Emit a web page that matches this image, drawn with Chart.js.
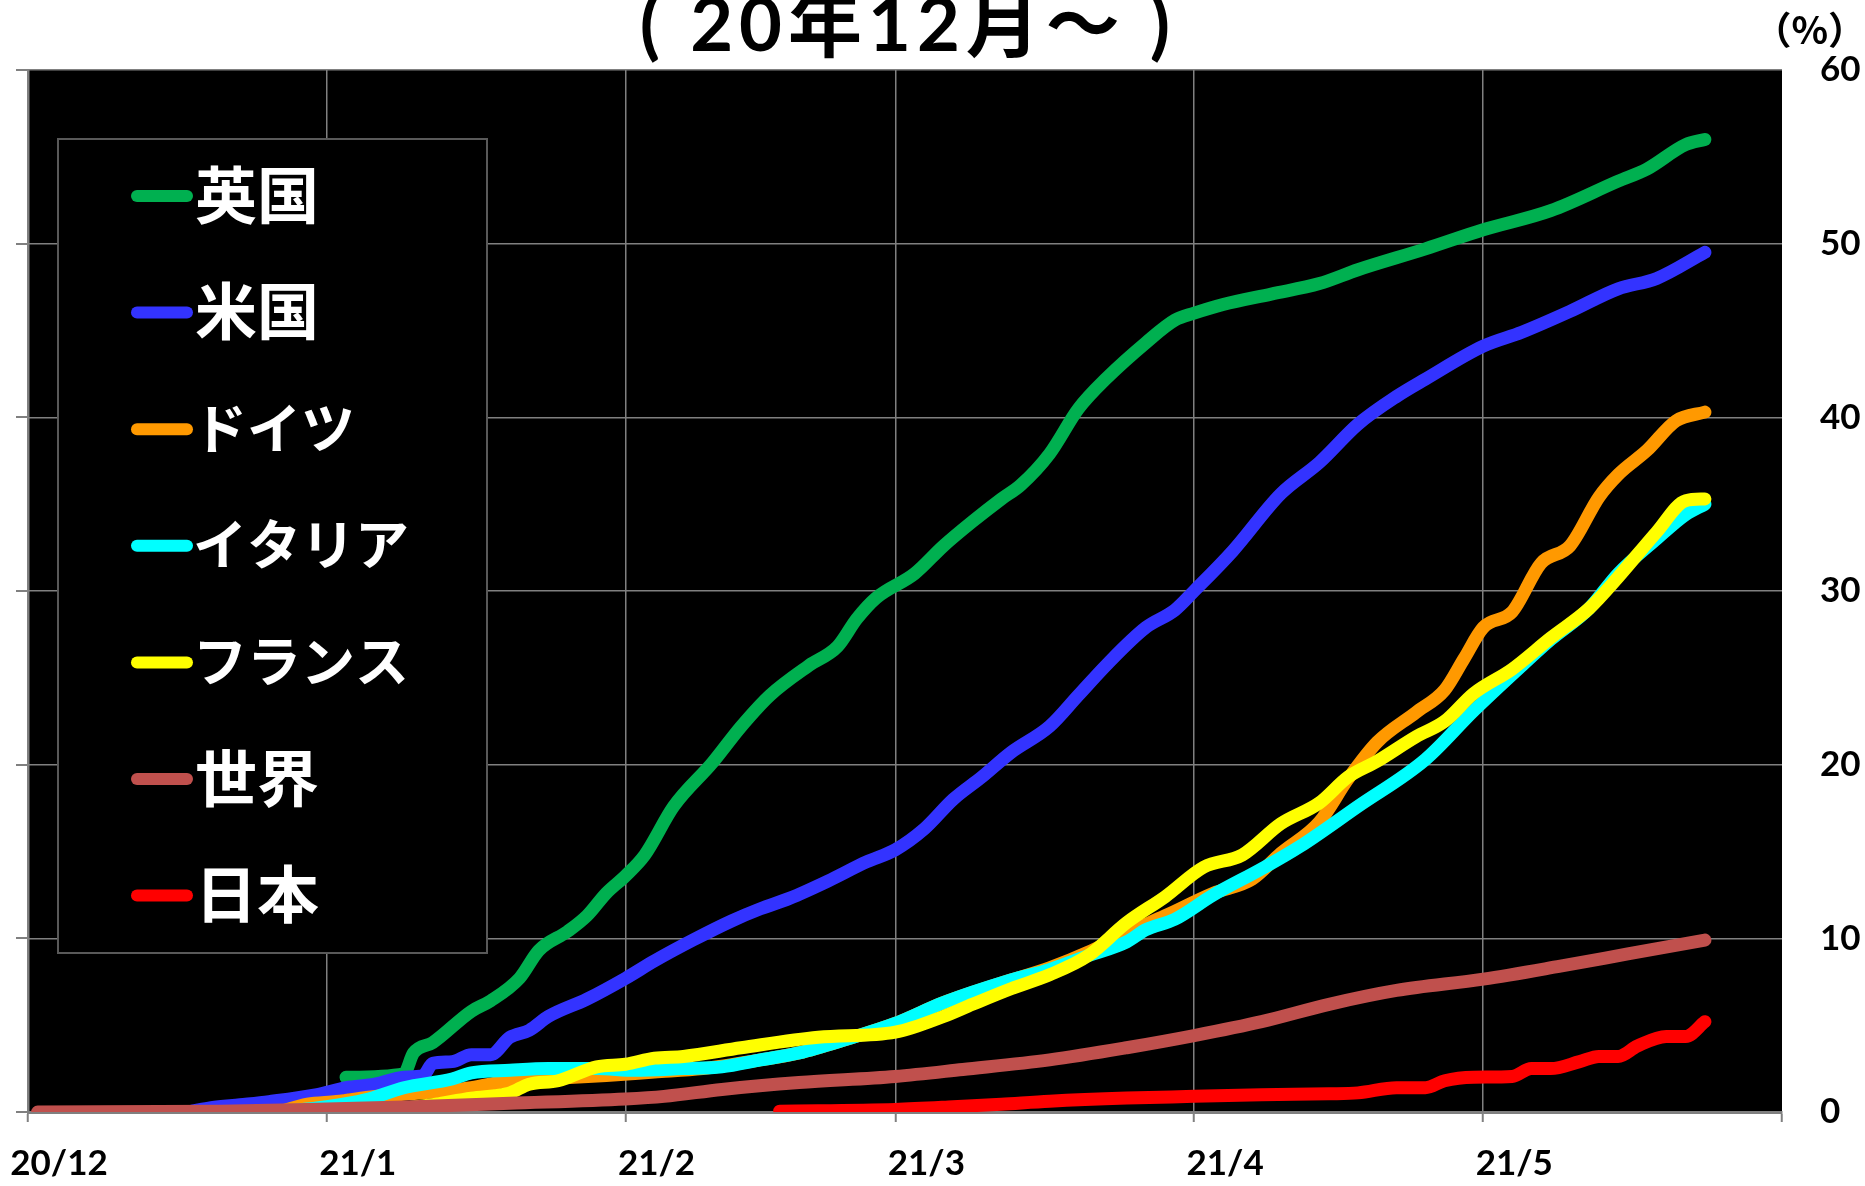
<!DOCTYPE html>
<html><head><meta charset="utf-8">
<script src="https://cdn.jsdelivr.net/npm/chart.js@4.4.1/dist/chart.umd.min.js"></script>
<style>html,body{margin:0;padding:0;background:#fff;overflow:hidden}</style>
</head><body>
<canvas id="c" width="1865" height="1186" style="display:block;width:1865px;height:1186px"></canvas>
<script>
// Day offsets are counted from 2020-12-01
const tickDays   = [0, 31, 62, 90, 121, 151, 182];
const tickLabels = ['20/12', '21/1', '21/2', '21/3', '21/4', '21/5', ''];
const yTicks = [0, 10, 20, 30, 40, 50, 60];

const seriesNames  = ['英国', '米国', 'ドイツ', 'イタリア', 'フランス', '世界', '日本'];
const seriesColors = ['#00B050', '#3333FF', '#FF9900', '#00FFFF', '#FFFF00', '#C0504D', '#FF0000'];

const ukDays = [33,39,40,42,46,48,51,53,56,58,60,62,64,67,71,74,77,81,84,86,88,92,95,98,101,103,106,109,112,116,119,121,124,129,134,138,145,151,158,165,168,172,174];
const ukValues = [2.0,2.2,3.4,4.0,5.8,6.4,7.7,9.3,10.4,11.3,12.6,13.6,14.8,17.6,20.1,22.2,24.0,25.7,26.8,28.4,29.6,31.0,32.6,34.0,35.3,36.1,37.9,40.5,42.3,44.3,45.6,46.0,46.5,47.1,47.7,48.5,49.7,50.8,51.9,53.6,54.3,55.7,56.0];

const usDays = [17,19,22,25,30,33,36,39,41,42,44,46,48,50,52,54,58,62,65,69,73,76,79,83,87,90,93,96,99,102,106,109,112,116,119,121,125,130,134,138,142,145,151,155,160,165,169,174];
const usValues = [0.05,0.25,0.42,0.6,1.0,1.4,1.6,2.0,2.1,2.8,2.9,3.3,3.3,4.3,4.7,5.5,6.5,7.7,8.7,9.9,11.0,11.7,12.3,13.3,14.4,15.1,16.3,18.0,19.3,20.7,22.2,24.0,25.8,27.9,28.9,30.0,32.3,35.6,37.4,39.6,41.2,42.2,44.1,44.9,46.1,47.4,48.0,49.5];

const deDays = [26,29,32,36,41,46,50,55,60,65,70,76,80,85,90,95,102,106,110,114,118,123,127,130,134,137,140,144,147,149,151,154,157,160,163,165,168,171,174];
const deValues = [0.0,0.45,0.6,0.9,1.1,1.4,1.8,1.95,2.1,2.3,2.5,3.0,3.4,4.2,5.1,6.3,7.6,8.3,9.2,10.3,11.3,12.6,13.4,14.9,16.7,19.2,21.3,23.0,24.3,26.1,27.9,28.8,31.6,32.6,35.4,36.7,38.1,39.8,40.3];

const itDays = [26,31,35,39,44,46,50,54,59,63,68,72,76,80,85,90,95,102,106,110,114,116,119,123,128,132,138,145,150,155,158,162,165,169,172,174];
const itValues = [0.0,0.3,0.7,1.4,1.9,2.25,2.4,2.5,2.5,2.4,2.5,2.6,3.0,3.4,4.2,5.1,6.3,7.6,8.2,9.0,9.8,10.5,11.1,12.5,14.0,15.3,17.6,20.3,23.1,25.7,27.2,29.0,31.0,33.0,34.4,35.0];

const frDays = [26,33,37,41,46,50,52,55,59,62,65,68,74,82,90,95,98,102,106,110,114,118,122,126,130,134,137,140,144,147,150,154,158,162,165,169,172,174];
const frValues = [0.0,0.05,0.13,0.35,0.8,1.1,1.6,1.8,2.6,2.75,3.1,3.2,3.7,4.3,4.6,5.5,6.2,7.1,7.9,9.0,10.9,12.4,14.1,14.8,16.6,17.8,19.3,20.2,21.6,22.5,24.1,25.5,27.3,29.0,30.8,33.4,35.2,35.3];

const worldDays = [1,20,31,40,50,62,66,72,80,90,97,106,114,121,128,135,142,151,159,166,174];
const worldValues = [0.0,0.05,0.17,0.3,0.5,0.75,0.9,1.3,1.7,2.05,2.45,3.0,3.7,4.4,5.2,6.2,7.0,7.65,8.4,9.1,9.9];

const jpDays = [78,90,96,101,106,114,121,128,135,138,142,145,147,150,154,156,158,161,163,165,167,170,172,174];
const jpValues = [0.05,0.15,0.3,0.45,0.62,0.8,0.9,1.0,1.05,1.1,1.4,1.4,1.8,2.0,2.05,2.5,2.5,2.9,3.2,3.2,3.8,4.35,4.35,5.2];

const seriesDays   = [ukDays, usDays, deDays, itDays, frDays, worldDays, jpDays];
const seriesValues = [ukValues, usValues, deValues, itValues, frValues, worldValues, jpValues];

const titleText = '( 20年12月～ )';
const unitText = '（%）';

const GRID = '#808080';

const datasets = seriesNames.map((name, i) => ({
  label: name,
  data: seriesDays[i].map((d, j) => ({ x: d, y: seriesValues[i][j] })),
  borderColor: seriesColors[i],
  backgroundColor: seriesColors[i],
  borderWidth: 13,
  pointRadius: 0,
  pointHoverRadius: 0,
  cubicInterpolationMode: 'monotone',
  borderCapStyle: 'round',
  borderJoinStyle: 'round',
  order: seriesNames.length - i,
  yAxisID: 'y',
  xAxisID: 'x'
}));

const decor = {
  id: 'decor',
  beforeDraw(chart) {
    const { ctx, chartArea: a } = chart;
    ctx.save();
    ctx.fillStyle = '#fff';
    ctx.fillRect(0, 0, chart.width, chart.height);
    ctx.fillStyle = '#000';
    ctx.fillRect(a.left, a.top, a.right - a.left, a.bottom - a.top);
    ctx.restore();
  },
  afterDraw(chart) {
    const { ctx } = chart;
    ctx.save();
    // legend box
    const bx = 58, by = 139, bw = 429, bh = 814;
    ctx.fillStyle = '#000';
    ctx.fillRect(bx, by, bw, bh);
    ctx.strokeStyle = '#595959';
    ctx.lineWidth = 2;
    ctx.strokeRect(bx, by, bw, bh);
    ctx.textBaseline = 'middle';
    ctx.textAlign = 'left';
    seriesNames.forEach((name, i) => {
      const y = 196 + i * 116.6;
      ctx.strokeStyle = seriesColors[i];
      ctx.lineWidth = 12;
      ctx.lineCap = 'round';
      ctx.beginPath();
      ctx.moveTo(137, y);
      ctx.lineTo(187, y);
      ctx.stroke();
      const kana = /[\u30A0-\u30FF]/.test(name);
      ctx.font = kana ? 'bold 54px "Noto Sans CJK JP"' : 'bold 62px "Noto Sans CJK JP"';
      ctx.fillStyle = '#fff';
      ctx.fillText(name, kana ? 193 : 195, y - 1);
    });
    // title
    ctx.fillStyle = '#000';
    ctx.textAlign = 'center';
    ctx.textBaseline = 'alphabetic';
    ctx.font = 'bold 74px Lato, "Noto Sans CJK JP"';
    try { ctx.letterSpacing = '6px'; } catch (e) {}
    ctx.fillText(titleText, 908, 51);
    try { ctx.letterSpacing = '0px'; } catch (e) {}
    // unit
    ctx.font = 'bold 38px "Noto Sans CJK JP"';
    ctx.textAlign = 'right';
    ctx.textBaseline = 'middle';
    ctx.fillText(unitText, 1866, 30);
    ctx.restore();
  }
};

new Chart(document.getElementById('c'), {
  type: 'line',
  data: { datasets },
  plugins: [decor],
  options: {
    responsive: false,
    animation: false,
    devicePixelRatio: 1,
    layout: { padding: { top: 70, left: 16, right: 0, bottom: 0 } },
    plugins: { legend: { display: false }, tooltip: { enabled: false }, title: { display: false } },
    scales: {
      x: {
        type: 'linear',
        min: 0, max: 182,
        afterBuildTicks: s => { s.ticks = tickDays.map(v => ({ value: v })); },
        afterFit: s => { s.height = 74; s.paddingLeft = 0; s.paddingRight = 0; },
        ticks: {
          autoSkip: false, maxRotation: 0, minRotation: 0,
          callback: v => tickLabels[tickDays.indexOf(v)],
          labelOffset: 31, padding: 21, color: '#000',
          font: { family: 'Lato', weight: 'bold', size: 35 }
        },
        grid: {
          color: c => (c.index === tickDays.length - 1 ? 'rgba(0,0,0,0)' : GRID),
          lineWidth: 1.5, tickLength: 10, tickColor: GRID, tickWidth: 2
        },
        border: { color: GRID, width: 3 }
      },
      yl: {
        type: 'linear', position: 'left', min: 0, max: 60,
        afterBuildTicks: s => { s.ticks = yTicks.map(v => ({ value: v })); },
        afterFit: s => { s.width = 12; s.paddingTop = 0; s.paddingBottom = 0; },
        ticks: { callback: () => '', padding: 0 },
        grid: { drawOnChartArea: false, tickLength: 12, color: GRID, lineWidth: 2 },
        border: { color: GRID, width: 2.5 }
      },
      y: {
        type: 'linear', position: 'right', min: 0, max: 60,
        afterBuildTicks: s => { s.ticks = yTicks.map(v => ({ value: v })); },
        afterFit: s => { s.width = 83; s.paddingTop = 0; s.paddingBottom = 0; },
        ticks: { padding: 38, color: '#000', font: { family: 'Lato', weight: 'bold', size: 35 } },
        grid: { drawOnChartArea: true, drawTicks: false, color: GRID, lineWidth: 1.5 },
        border: { display: false }
      }
    }
  }
});
</script>
</body></html>
